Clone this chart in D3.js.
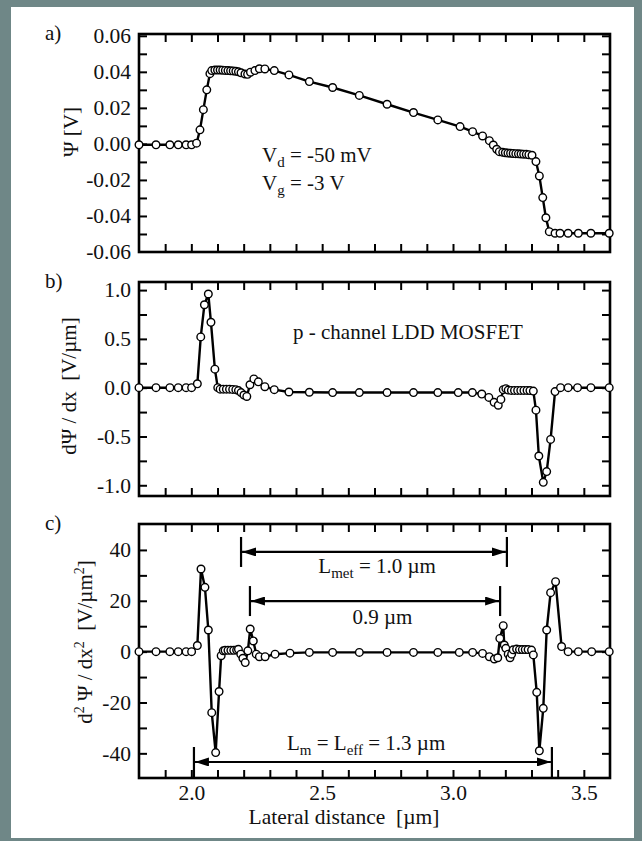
<!DOCTYPE html>
<html><head><meta charset="utf-8">
<script src="https://cdn.jsdelivr.net/npm/d3@7"></script>
<style>
body{margin:0;padding:0;background:#fff;}
svg text{fill:#111;white-space:pre;}
</style></head>
<body>
<svg id="c" width="642" height="841"></svg>
<script>
// ---------- DATA ----------
// panel a: potential Psi [V]
const xA = [1.80,1.865,1.918,1.95,1.98,2.001,2.02,2.033,2.046,2.059,2.071,2.078,
  2.09,2.10,2.11,2.12,2.13,2.14,2.15,2.16,2.17,2.18,2.19,
  2.205,2.215,2.226,2.243,2.26,2.281,2.317,2.373,2.451,2.54,2.642,2.748,2.849,2.942,
  3.027,3.075,3.113,3.139,3.154,3.167,3.177,
  3.19,3.20,3.21,3.22,3.23,3.24,3.25,3.26,3.27,3.28,3.29,
  3.302,3.317,3.33,3.343,3.355,3.368,3.39,3.409,3.44,3.479,3.527,3.597];
const psi = [-0.0005,-0.0005,-0.0005,-0.0005,-0.0005,-0.0005,0.0004,0.0078,0.019,0.030,0.039,0.0407,
  0.0410,0.0410,0.0410,0.0409,0.0408,0.0407,0.0406,0.0405,0.0403,0.0400,0.0395,
  0.0388,0.0386,0.0398,0.0407,0.0417,0.0416,0.0407,0.0383,0.0346,0.0313,0.0269,0.0220,0.0174,0.0133,
  0.0096,0.0068,0.0044,0.0018,-0.0006,-0.0030,-0.0043,
  -0.0047,-0.0049,-0.0051,-0.0052,-0.0053,-0.0054,-0.0055,-0.0056,-0.0057,-0.0058,-0.0060,
  -0.0063,-0.0098,-0.0178,-0.0298,-0.0410,-0.0487,-0.0496,-0.0496,-0.0496,-0.0496,-0.0496,-0.0496];

// panel b: first derivative dPsi/dx [V/um]
const xB = [1.80,1.865,1.918,1.95,1.98,2.001,2.023,2.036,2.05,2.065,2.075,2.09,2.101,
  2.11,2.122,2.134,2.146,2.158,2.17,2.18,2.19,2.201,2.212,
  2.224,2.239,2.256,2.281,2.317,2.373,2.451,2.54,2.642,2.748,2.849,2.942,
  3.02,3.074,3.11,3.137,3.157,3.173,3.183,3.192,3.202,
  3.211,3.223,3.235,3.247,3.259,3.271,3.283,3.294,
  3.307,3.317,3.328,3.345,3.358,3.373,3.39,3.411,3.44,3.476,3.527,3.597];
const dpsi = [0,0,0,0,0,0,0.04,0.52,0.85,0.96,0.67,0.19,0.0,
  -0.015,-0.015,-0.015,-0.015,-0.018,-0.02,-0.03,-0.05,-0.075,-0.09,
  0.03,0.09,0.06,0.01,-0.02,-0.044,-0.047,-0.05,-0.05,-0.05,-0.05,-0.05,
  -0.05,-0.05,-0.065,-0.10,-0.15,-0.18,-0.12,-0.02,-0.01,
  -0.025,-0.028,-0.028,-0.028,-0.028,-0.028,-0.028,-0.03,
  -0.035,-0.23,-0.70,-0.97,-0.86,-0.53,-0.04,0,0,0,0,0];

// panel c: second derivative d2Psi/dx2 [V/um^2]
const xC = [1.80,1.865,1.918,1.95,1.98,2.001,2.023,2.037,2.052,2.065,2.078,2.093,2.106,2.114,
  2.122,2.129,2.14,2.151,2.162,2.173,
  2.18,2.189,2.197,2.206,2.216,2.225,2.237,2.248,2.26,2.282,2.32,2.377,
  2.451,2.54,2.642,2.748,2.849,2.942,
  3.024,3.075,3.113,3.139,3.158,3.171,
  3.179,3.192,3.196,3.202,3.211,3.218,3.224,3.23,
  3.243,3.254,3.265,3.276,3.287,3.30,
  3.307,3.32,3.33,3.345,3.358,3.373,3.392,
  3.415,3.44,3.479,3.53,3.597];
const d2psi = [0,0,0,0,0,0,2.4,32.5,25.3,8.5,-24,-39.7,-15.7,-1.6,
  0.3,0.5,0.5,0.5,0.5,0.6,
  0.9,-1.0,-2.6,-4.3,0.3,8.9,4.2,-1.0,-2.0,-2.0,-1.0,-0.6,
  -0.3,-0.3,-0.3,-0.3,-0.3,-0.3,
  -0.3,-0.3,-0.7,-2.0,-2.9,-2.4,
  5.2,10.2,2.6,1.3,-1.0,-2.4,-1.0,0.7,
  1.0,0.8,0.8,0.8,0.8,0.6,
  -1.3,-16,-39,-22.3,8.5,23.2,27.5,
  2.0,0,0,0,0];

// axes ticks
const xTicks = [1.9,2.0,2.1,2.2,2.3,2.4,2.5,2.6,2.7,2.8,2.9,3.0,3.1,3.2,3.3,3.4,3.5];
const xTickLabels = [2.0,2.5,3.0,3.5];
const yTicksA = [-0.05,-0.04,-0.03,-0.02,-0.01,0,0.01,0.02,0.03,0.04,0.05,0.06];
const yLabelsA = [-0.06,-0.04,-0.02,0,0.02,0.04,0.06];
const yTicksB = [-1,-0.75,-0.5,-0.25,0,0.25,0.5,0.75,1];
const yLabelsB = [-1,-0.5,0,0.5,1];
const yTicksC = [-40,-30,-20,-10,0,10,20,30,40];
const yLabelsC = [-40,-20,0,20,40];

// dimension annotations in panel c (data units)
const dimStart = [2.19, 2.224, 2.01];
const dimEnd   = [3.206, 3.18, 3.378];
const dimLevel = [39.2, 19.9, -43.4];
const dimTextX = [2.71, 2.73, 2.668];

// ---------- DRAW ----------
const FONT = "Liberation Serif";
const svg = d3.select("#c");
svg.append("rect").attr("x",0).attr("y",0).attr("width",642).attr("height",841).attr("fill","#6f8787");
svg.append("rect").attr("x",11).attr("y",7).attr("width",623).attr("height",831).attr("fill","#ffffff");

const L = 139, R = 610;
const x = d3.scaleLinear().domain([1.8,3.6]).range([L,R]);

const panels = [
  {xs:xA, ys:psi, y:d3.scaleLinear().domain([-0.06,0.061]).range([252,34]), top:34, bottom:252,
   ticks:yTicksA, labels:yLabelsA, fmt:d=>d.toFixed(2), tag:"a)"},
  {xs:xB, ys:dpsi, y:d3.scaleLinear().domain([-1.11,1.083]).range([496,282]), top:282, bottom:496,
   ticks:yTicksB, labels:yLabelsB, fmt:d=>d.toFixed(1), tag:"b)"},
  {xs:xC, ys:d2psi, y:d3.scaleLinear().domain([-49.7,50.2]).range([778,524]), top:524, bottom:778,
   ticks:yTicksC, labels:yLabelsC, fmt:d=>String(d), tag:"c)"}
];

panels.forEach((p,i)=>{
  const g = svg.append("g");
  const tick = (axis, tx, ty) => {
    const a = g.append("g").attr("transform",`translate(${tx},${ty})`).call(axis);
    a.select(".domain").remove();
    a.selectAll("line").attr("stroke","#000").attr("stroke-width",2);
    return a;
  };
  tick(d3.axisLeft(p.y).tickValues(p.ticks).tickSize(-8).tickFormat(""), L, 0);
  tick(d3.axisRight(p.y).tickValues(p.ticks).tickSize(-8).tickFormat(""), R, 0);
  tick(d3.axisTop(x).tickValues(xTicks).tickSize(-8).tickFormat(""), 0, p.top);
  tick(d3.axisBottom(x).tickValues(xTicks).tickSize(-8).tickFormat(""), 0, p.bottom);
  const la = g.append("g").attr("transform",`translate(${L-1},0)`)
    .call(d3.axisLeft(p.y).tickValues(p.labels).tickSize(0).tickPadding(7).tickFormat(p.fmt));
  la.select(".domain").remove();
  la.attr("font-family",FONT);
  la.selectAll("text").attr("font-size",21.5).attr("font-family",FONT).attr("fill","#111");
  g.append("rect").attr("x",L).attr("y",p.top).attr("width",R-L).attr("height",p.bottom-p.top)
    .attr("fill","none").attr("stroke","#000").attr("stroke-width",2.6);
  g.append("text").attr("x",45).attr("y",p.top+6).attr("font-size",21).attr("font-family",FONT).text(p.tag);
  const pts = p.xs.map((v,j)=>[v,p.ys[j]]);
  g.append("path").datum(pts)
    .attr("d", d3.line().x(d=>x(d[0])).y(d=>p.y(d[1])))
    .attr("fill","none").attr("stroke","#000").attr("stroke-width",2.4).attr("stroke-linejoin","round");
  g.selectAll("circle").data(pts).enter().append("circle")
    .attr("cx",d=>x(d[0])).attr("cy",d=>p.y(d[1])).attr("r",3.8)
    .attr("fill","#fff").attr("stroke","#000").attr("stroke-width",1.4);
});

// x labels bottom
const xl = svg.append("g").attr("transform",`translate(0,778)`)
  .call(d3.axisBottom(x).tickValues(xTickLabels).tickSize(0).tickPadding(7).tickFormat(d=>d.toFixed(1)));
xl.select(".domain").remove();
xl.attr("font-family",FONT);
xl.selectAll("text").attr("font-size",21.5).attr("font-family",FONT).attr("fill","#111");

svg.append("text").attr("x",344).attr("y",824).attr("text-anchor","middle").attr("font-size",21.5)
  .attr("font-family",FONT).text("Lateral distance  [µm]");

// y titles
function vtitle(cx, cy, build){
  const t = svg.append("text").attr("transform",`translate(${cx},${cy}) rotate(-90)`)
    .attr("text-anchor","middle").attr("font-size",21).attr("font-family",FONT);
  build(t);
}
vtitle(78,132,t=>t.text("Ψ [V]"));
vtitle(76,386,t=>t.text("dΨ / dx  [V/µm]"));
vtitle(92,642,t=>{
  t.append("tspan").text("d");
  t.append("tspan").attr("font-size",14).attr("dy",-8).text("2");
  t.append("tspan").attr("dy",8).text(" Ψ / dx");
  t.append("tspan").attr("font-size",14).attr("dy",-8).text("2");
  t.append("tspan").attr("dy",8).text("  [V/µm");
  t.append("tspan").attr("font-size",14).attr("dy",-8).text("2");
  t.append("tspan").attr("dy",8).text("]");
});

// annotations panel a
function subText(xp, yp, main, sub, rest){
  const t = svg.append("text").attr("x",xp).attr("y",yp).attr("font-size",21).attr("font-family",FONT);
  t.append("tspan").text(main);
  t.append("tspan").attr("font-size",15).attr("dy",5).text(sub);
  t.append("tspan").attr("dy",-5).text(rest);
}
subText(262,162,"V","d"," = -50 mV");
subText(262,190,"V","g"," = -3 V");

// annotation panel b
svg.append("text").attr("x",293).attr("y",339).attr("font-size",21).attr("font-family",FONT).text("p - channel LDD MOSFET");

// dimension arrows panel c
const yc = panels[2].y;
const defs = svg.append("defs");
["s","e"].forEach(k=>{
  defs.append("marker").attr("id","ah"+k).attr("viewBox","0 0 14 9").attr("refX",14).attr("refY",4.5)
    .attr("markerWidth",14).attr("markerHeight",9).attr("markerUnits","userSpaceOnUse")
    .attr("orient", k==="s" ? "auto-start-reverse" : "auto")
    .append("path").attr("d","M0,0 L14,4.5 L0,9 Z").attr("fill","#000");
});
dimStart.forEach((s,i)=>{
  const yy = yc(dimLevel[i]);
  const x1 = x(s), x2 = x(dimEnd[i]);
  svg.append("line").attr("x1",x1+1).attr("x2",x2-1).attr("y1",yy).attr("y2",yy)
    .attr("stroke","#000").attr("stroke-width",2.2)
    .attr("marker-start","url(#ahs)").attr("marker-end","url(#ahe)");
  const top = yy-15, bot = i===2 ? 778 : yy+15;
  [x1,x2].forEach(xx=>svg.append("line").attr("x1",xx).attr("x2",xx).attr("y1",top).attr("y2",bot)
    .attr("stroke","#000").attr("stroke-width",2.2));
});
{
  const t = svg.append("text").attr("x",x(dimTextX[0])).attr("y",yc(dimLevel[0])+21).attr("text-anchor","middle").attr("font-size",21).attr("font-family",FONT);
  t.append("tspan").text("L");
  t.append("tspan").attr("font-size",15).attr("dy",5).text("met");
  t.append("tspan").attr("dy",-5).text(" = 1.0 µm");
  svg.append("text").attr("x",x(dimTextX[1])).attr("y",yc(dimLevel[1])+23).attr("text-anchor","middle").attr("font-size",21).attr("font-family",FONT).text("0.9 µm");
  const t2 = svg.append("text").attr("x",x(dimTextX[2])).attr("y",yc(dimLevel[2])-12).attr("text-anchor","middle").attr("font-size",21).attr("font-family",FONT);
  t2.append("tspan").text("L");
  t2.append("tspan").attr("font-size",15).attr("dy",5).text("m");
  t2.append("tspan").attr("dy",-5).text(" = L");
  t2.append("tspan").attr("font-size",15).attr("dy",5).text("eff");
  t2.append("tspan").attr("dy",-5).text(" = 1.3 µm");
}
</script>
</body></html>
